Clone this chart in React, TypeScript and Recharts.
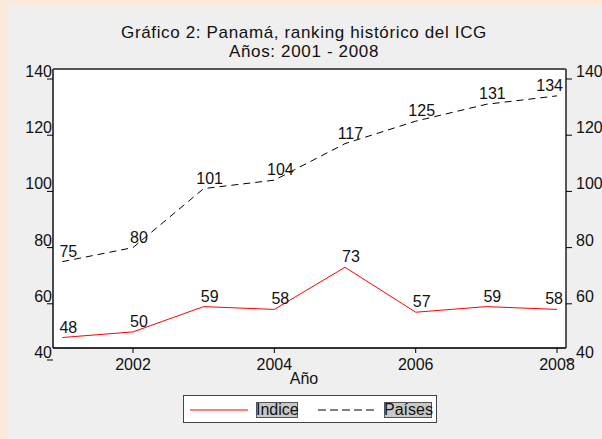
import React from 'react';
import { LineChart, Line, XAxis, YAxis, CartesianGrid, LabelList } from 'recharts';

const years = [2001, 2002, 2003, 2004, 2005, 2006, 2007, 2008];
const indice = [48, 50, 59, 58, 73, 57, 59, 58];
const paises = [75, 80, 101, 104, 117, 125, 131, 134];
const yTicks = [40, 60, 80, 100, 120, 140];
const xTicks = [2002, 2004, 2006, 2008];

const data = years.map((y, i) => ({ year: y, indice: indice[i], paises: paises[i] }));

const font = '"Liberation Sans", Arial, sans-serif';
const PLOT_RIGHT = 558;

const LeftTick = (p: any) => (
  <text x={p.x + 7} y={p.y - 2} textAnchor="end" fontSize={16} fontFamily={font} fill="#111">
    {p.payload.value}
  </text>
);

const RightTick = (p: any) => (
  <text x={p.x + 2} y={p.y - 2} textAnchor="start" fontSize={16} fontFamily={font} fill="#111">
    {p.payload.value}
  </text>
);

const BottomTick = (p: any) => (
  <text x={p.x} y={p.y + 15} textAnchor="middle" fontSize={16} fontFamily={font} fill="#111">
    {p.payload.value}
  </text>
);

// labels sit just above-right of each point, pulled back inside the frame at the right edge
const pointLabel = (p: any) => {
  const txt = String(p.value);
  const w = txt.length * 8.9;
  let x = p.x + 6 - w / 2;
  if (x + w > PLOT_RIGHT - 2) x = PLOT_RIGHT - 3 - w;
  return (
    <text x={x} y={p.y - 5} textAnchor="start" fontSize={16} fontFamily={font} fill="#111">
      {txt}
    </text>
  );
};

const App: React.FC = () => {
  return (
    <div style={{ position: 'absolute', left: 0, top: 0, width: 602, height: 439, background: '#fbe9dc', fontFamily: font }}>
      <div style={{ position: 'absolute', left: 8, top: 6, width: 594, height: 433, background: '#efefef' }}>
        {/* Title */}
        <div style={{ position: 'absolute', left: 0, top: 17, width: 592, textAlign: 'center', fontSize: 17, lineHeight: '19px', letterSpacing: 0.65, color: '#111' }}>
          <div>Gráfico 2: Panamá, ranking histórico del ICG</div>
          <div>Años: 2001 - 2008</div>
        </div>

        <LineChart width={594} height={433} data={data} margin={{ top: 63, right: 0, bottom: 61, left: 0 }}>
          <rect x={45} y={63} width={513} height={279} fill="#fff" />
          <CartesianGrid vertical={false} stroke="#e4e4e4" strokeWidth={1.5} />
          <XAxis
            dataKey="year"
            type="number"
            domain={[2000.868, 2008.127]}
            ticks={xTicks}
            allowDataOverflow
            height={30}
            tickSize={5}
            tick={BottomTick}
            tickLine={{ stroke: '#000' }}
            axisLine={{ stroke: '#333', strokeWidth: 2 }}
          />
          <YAxis
            yAxisId="l"
            orientation="left"
            domain={[44.27, 143.56]}
            ticks={yTicks}
            allowDataOverflow
            width={45}
            tickSize={6}
            tick={LeftTick}
            tickLine={{ stroke: '#000' }}
            axisLine={{ stroke: '#111', strokeWidth: 1.5 }}
          />
          <YAxis
            yAxisId="r"
            orientation="right"
            domain={[44.27, 143.56]}
            ticks={yTicks}
            allowDataOverflow
            width={36}
            tickSize={6}
            tick={RightTick}
            tickLine={{ stroke: '#000' }}
            axisLine={{ stroke: '#222', strokeWidth: 1.5 }}
          />
          <Line
            yAxisId="l"
            dataKey="paises"
            stroke="#000"
            strokeWidth={1}
            strokeDasharray="7 5"
            dot={false}
            isAnimationActive={false}
          >
            <LabelList dataKey="paises" content={pointLabel} />
          </Line>
          <Line
            yAxisId="l"
            dataKey="indice"
            stroke="#ff0000"
            strokeWidth={1}
            dot={false}
            isAnimationActive={false}
          >
            <LabelList dataKey="indice" content={pointLabel} />
          </Line>
        </LineChart>

        {/* top frame line */}
        <div style={{ position: 'absolute', left: 45, top: 62, width: 513, height: 0, borderTop: '2px solid #555' }} />

        {/* x axis title */}
        <div style={{ position: 'absolute', left: 0, top: 364, width: 592, textAlign: 'center', fontSize: 16, lineHeight: '18px', color: '#111' }}>Año</div>

        {/* Legend */}
        <div style={{ position: 'absolute', left: 175, top: 389, width: 252, height: 26, background: '#fff', border: '1px solid #444' }}>
          <svg width={252} height={26} style={{ position: 'absolute', left: 0, top: 0 }}>
            <line x1={6} y1={14} x2={64} y2={14} stroke="#ff0000" strokeWidth={1} />
            <line x1={134} y1={14} x2={192} y2={14} stroke="#000" strokeWidth={1} strokeDasharray="8 4" />
          </svg>
          <div style={{ position: 'absolute', left: 72, top: 6, width: 42, height: 16, background: '#c8c8c8', border: '1px solid #555', boxSizing: 'border-box' }} />
          <div style={{ position: 'absolute', left: 72, top: 4, fontSize: 16, lineHeight: '19px', color: '#111' }}>Indice</div>
          <div style={{ position: 'absolute', left: 200, top: 6, width: 48, height: 16, background: '#c8c8c8', border: '1px solid #555', boxSizing: 'border-box' }} />
          <div style={{ position: 'absolute', left: 200, top: 4, fontSize: 16, lineHeight: '19px', color: '#111' }}>Países</div>
        </div>
      </div>
    </div>
  );
};

export default App;
